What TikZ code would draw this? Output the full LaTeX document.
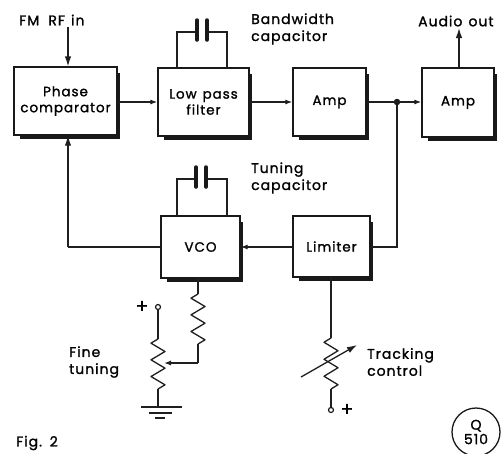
\documentclass[tikz,border=0pt]{standalone}
\usepackage{fontspec}
\setmainfont{Poppins}[LetterSpace=7,FakeBold=1.3,WordSpace=1.3]
\usetikzlibrary{arrows.meta,calc}
\tikzset{
  x=1pt,y=-1pt,
  wire/.style={line width=1.3pt,black!88},
  blk/.style={draw=black!90,line width=1.3pt,fill=white,inner sep=0pt,align=center,font=\fontsize{13.5}{16}\selectfont},
  tag/.style={inner sep=0pt,align=left,anchor=west,font=\fontsize{14}{17}\selectfont},
  arr/.style={wire,-{Latex[length=10pt,width=6.5pt]}},
  sarr/.style={wire,-{Latex[length=7pt,width=5pt]}},
  shade/.style={fill=black!90,draw=none},
  plate/.style={line width=3.5pt,line cap=round,black!90},
  term/.style={circle,draw=black!90,line width=1.2pt,fill=white,minimum size=5pt,inner sep=0pt},
  dotn/.style={circle,fill=black!90,minimum size=6.5pt,inner sep=0pt}
}
\newcommand{\blockbox}[6]{% name, x0,y0,x1,y1,text
  \fill[shade] (#2+6,#3+6) rectangle (#4+2.5,#5+3.5);
  \node[blk,minimum width=#4pt-#2pt,minimum height=#5pt-#3pt] (#1) at ({(#2+#4)/2},{(#3+#5)/2}) {#6};
}
\newcommand{\zig}[3]{% x, y0, y1: vertical zigzag
  \draw[wire,line join=round] (#1,#2)
    \foreach \k/\s in {1/-1,3/1,5/-1,7/1,9/-1,11/1}{ -- ($(#1,#2)+(\s*7,{\k*(#3-#2)/12})$) } -- (#1,#3);
}
\begin{document}
\begin{tikzpicture}
\useasboundingbox (0,0) rectangle (502,453);
\fill[white] (0,0) rectangle (502,453);
\blockbox{pc}{14}{67}{117}{135}{Phase\\comparator}
\blockbox{lpf}{158}{68}{249}{136}{Low pass\\filter}
\blockbox{a1}{293}{68}{366}{136}{Amp}
\blockbox{a2}{422}{68}{494}{137}{Amp}
\blockbox{vco}{161}{216}{240}{278}{VCO}
\blockbox{lim}{293}{216}{370}{277}{Limiter}

\coordinate (fm) at (68,27);
\coordinate (aud) at (459,28);
\coordinate (j) at (397,102);
\coordinate (bend) at (397,247);
\coordinate (fb) at (68,247);
\node[dotn] (jd) at (j) {};
\draw[arr] (fm) -- (fm |- pc.north);
\draw[arr] (aud |- a2.north) -- (aud);
\draw[sarr] (pc.east |- 0,102) -- (lpf.west |- 0,102);
\draw[sarr] (lpf.east |- 0,102) -- (a1.west |- 0,102);
\draw[sarr] (a1.east |- 0,102) -- (a2.west |- 0,102);
\draw[wire] (jd) -- (bend) -- (lim.east |- bend);
\draw[sarr] (lim.west |- bend) -- (vco.east |- bend);
\draw[wire] (vco.west |- bend) -- (fb);
\draw[arr] (fb) -- (fb |- pc.south);

% capacitors
\coordinate (c1l) at (177,68); \coordinate (c1r) at (227,68);
\draw[wire] (c1l) -- (177,32) -- (197,32);
\draw[wire] (c1r) -- (227,32) -- (207,32);
\draw[plate] (197,20) -- (197,40);
\draw[plate] (207,20) -- (207,40);
\coordinate (c2l) at (177,216); \coordinate (c2r) at (227,216);
\draw[wire] (c2l) -- (177,179) -- (196,179);
\draw[wire] (c2r) -- (227,179) -- (206,179);
\draw[plate] (196,167) -- (196,187);
\draw[plate] (206,167) -- (206,187);

% VCO trim
\draw[wire] (198,278) -- (198,294);
\zig{198}{294}{344}
\draw[wire] (198,344) -- (198,363);
\draw[sarr] (198,363) -- (164,363);
% pot
\node[term] (pt) at (158,307) {};
\node[inner sep=0pt,font=\fontsize{19}{19}\selectfont] (pp) at (142,307) {+};
\draw[wire] (pt) -- (158,339);
\zig{158}{339}{389}
\draw[wire] (158,389) -- (158,407);
\draw[wire] (141,407) -- (182,407);
\draw[wire] (149,413) -- (172,413);
\draw[wire] (155,418) -- (165,418);

% tracking
\draw[wire] (lim.south -| 331,0) -- (331,338);
\zig{331}{338}{389}
\node[term] (tt) at (331,410) {};
\draw[wire] (331,389) -- (tt);
\node[inner sep=0pt,font=\fontsize{19}{19}\selectfont] (tp) at (347,410) {+};
\draw[arr] (301,377) -- (357,345);

% labels
\node[tag] (l1) at (19,20) {FM\hspace{3pt} RF in};
\node[tag] (l2) at (251,29) {Bandwidth\\capacitor};
\node[tag] (l3) at (418,21) {Audio out};
\node[tag] (l4) at (251,178) {Tuning\\capacitor};
\node[tag] (l5) at (69,362) {Fine\\tuning};
\node[tag] (l6) at (367,362) {Tracking\\control};
\node[tag] (l7) at (16,443) {Fig. 2};
\node[circle,draw=black!90,line width=1.3pt,minimum size=48pt,inner sep=0pt,align=center,font=\fontsize{14}{14.5}\selectfont] (q) at (476,432) {Q\\510};
\end{tikzpicture}
\end{document}
